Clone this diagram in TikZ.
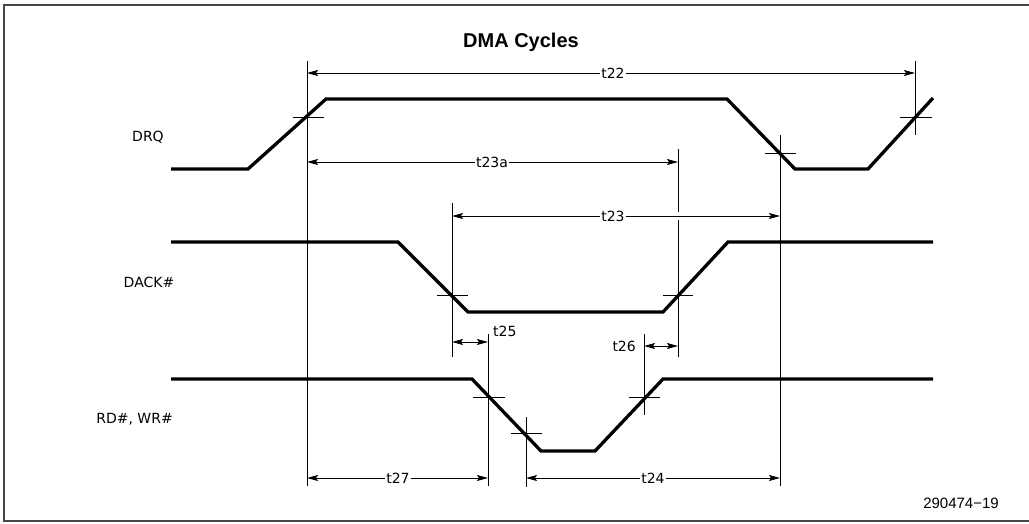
\documentclass[tikz,border=0pt]{standalone}
\usepackage{fontspec}
\setmainfont{Liberation Sans}
\newfontfamily\lblfont{DejaVu Sans}
\usetikzlibrary{arrows.meta}
\begin{document}
\begin{tikzpicture}[x=1pt,y=-1pt,
  sig/.style={line width=3.3pt, line join=miter},
  thinline/.style={line width=1pt},
  dimline/.style={line width=1pt, {Stealth[length=11pt,width=6pt,inset=2pt]}-{Stealth[length=11pt,width=6pt,inset=2pt]}},
  dimlbl/.style={font=\lblfont\fontsize{14}{16}\selectfont, fill=white, inner sep=1.5pt},
  siglbl/.style={font=\lblfont\fontsize{14}{16}\selectfont, inner sep=0pt}]
\useasboundingbox (0,0) rectangle (1029,523);
% frame
\draw[line width=2pt, black!72] (1029,5) -- (4,5) -- (4,521) -- (1029,521);
% title and labels
\node[font=\bfseries\fontsize{20}{24}\selectfont] (title) at (521,42) {DMA Cycles};
\node[siglbl] (drq) at (148,137) {DRQ};
\node[siglbl] (dack) at (149,282) {DACK\#};
\node[siglbl, anchor=east] (rdwr) at (173,419) {RD\#, WR\#};
\node[font=\fontsize{15}{18}\selectfont, inner sep=0pt] (fig) at (961,503) {290474−19};
% signals
\draw[sig] (171,169) -- (248,169) -- (326,99) -- (727,99) -- (795,169) -- (868,169) -- (933,98);
\draw[sig] (171,242) -- (398,242) -- (468,312) -- (663,312) -- (728,242) -- (933,242);
\draw[sig] (171,379) -- (472,379) -- (541,451) -- (595,451) -- (663,379) -- (933,379);
% reference coordinates
\coordinate (v1t) at (307,61);  \coordinate (v1b) at (307,486);
\coordinate (v2t) at (915,61);  \coordinate (v2b) at (915,135);
\coordinate (v3t) at (780,135); \coordinate (v3b) at (780,486);
\coordinate (v4t) at (678,149); \coordinate (v4m1) at (678,212);
\coordinate (v4m2) at (678,220); \coordinate (v4b) at (678,357);
\coordinate (v5t) at (452,203); \coordinate (v5b) at (452,357);
\coordinate (v6t) at (488,334); \coordinate (v6b) at (488,486);
\coordinate (v7t) at (644,334); \coordinate (v7b) at (644,415);
\coordinate (v8t) at (526,417); \coordinate (v8b) at (526,487);
% vertical reference lines
\draw[thinline] (v1t) -- (v1b);
\draw[thinline] (v2t) -- (v2b);
\draw[thinline] (v3t) -- (v3b);
\draw[thinline] (v4t) -- (v4m1);
\draw[thinline] (v4m2) -- (v4b);
\draw[thinline] (v5t) -- (v5b);
\draw[thinline] (v6t) -- (v6b);
\draw[thinline] (v7t) -- (v7b);
\draw[thinline] (v8t) -- (v8b);
% crossing ticks
\draw[thinline] (293,117) -- (324,117);
\draw[thinline] (900,117) -- (932,117);
\draw[thinline] (765,153) -- (796,153);
\draw[thinline] (437,295) -- (468,295);
\draw[thinline] (663,295) -- (693,295);
\draw[thinline] (473,397) -- (505,397);
\draw[thinline] (511,433) -- (542,433);
\draw[thinline] (629,397) -- (660,397);
% dimension arrows
\coordinate (a22l) at (307,73);  \coordinate (a22r) at (915,73);
\coordinate (a23al) at (307,162); \coordinate (a23ar) at (678,162);
\coordinate (a23l) at (452,216); \coordinate (a23r) at (780,216);
\coordinate (a25l) at (452,342); \coordinate (a25r) at (488,342);
\coordinate (a26l) at (644,346); \coordinate (a26r) at (678,346);
\coordinate (a27l) at (307,478); \coordinate (a27r) at (488,478);
\coordinate (a24l) at (526,478); \coordinate (a24r) at (780,478);
\draw[dimline] (a22l) -- (a22r);
\draw[dimline] (a23al) -- (a23ar);
\draw[dimline] (a23l) -- (a23r);
\draw[dimline] (a25l) -- (a25r);
\draw[dimline] (a26l) -- (a26r);
\draw[dimline] (a27l) -- (a27r);
\draw[dimline] (a24l) -- (a24r);
\node[dimlbl] (t22) at (613,73) {t22};
\node[dimlbl] (t23a) at (492,162) {t23a};
\node[dimlbl] (t23) at (613,216) {t23};
\node[dimlbl, anchor=west, fill=none, inner sep=0pt] (t25) at (493,331) {t25};
\node[dimlbl, anchor=east, fill=none, inner sep=0pt] (t26) at (636,346) {t26};
\node[dimlbl] (t27) at (398,478) {t27};
\node[dimlbl] (t24) at (653,478) {t24};
\end{tikzpicture}
\end{document}
